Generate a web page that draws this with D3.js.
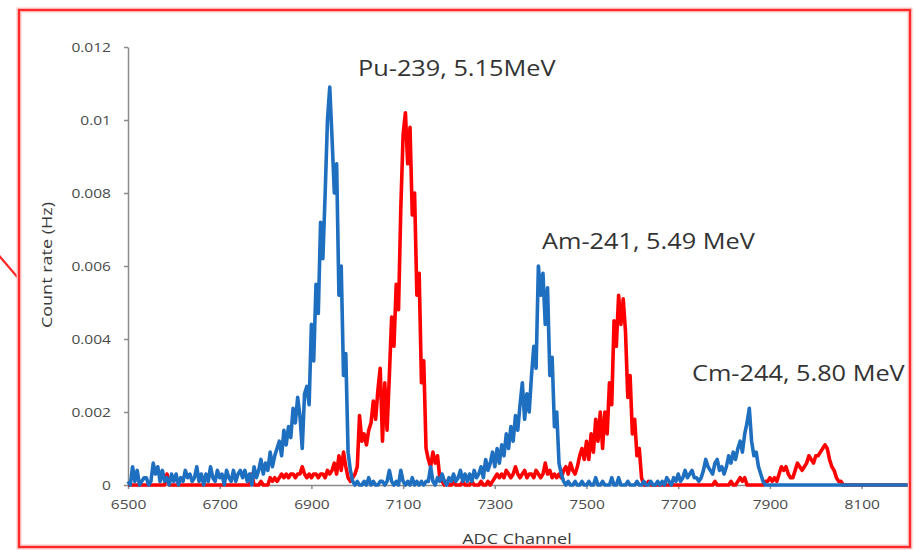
<!DOCTYPE html>
<html lang="en">
<head>
    <meta charset="utf-8">
    <title>Alpha spectrum</title>
    <script src="https://cdn.jsdelivr.net/npm/d3@7"></script>
    <style type="text/css">
        body { margin: 0; background: #fff; }
        svg { display: block; }
        text { font-family: "Open Sans", "Noto Sans", sans-serif; }
    </style>
</head>
<body>
    <script type="text/javascript">

        var w = 915;
        var h = 550;

        // ADC channels, one sample every 5 channels
        var firstChannel = 6500;
        var lastChannel = 8200;
        var channelStep = 5;

        // count rates in units of 1e-4 Hz
        var blueRate = [
            1,0,5,1,4,0,1,2,2,0,1,6,3,5,1,4,1,2,0,3,        // 6500
            1,3,0,2,1,4,2,3,1,2,5,1,3,0,3,1,5,2,1,4,        // 6600
            2,3,0,4,2,1,4,1,3,4,2,4,1,3,0,5,2,4,7,3,        // 6700
            6,4,9,5,8,10,12,8,15,11,16,13,21,17,24,19,10,25,27,22,   // 6800
            44,34,55,47,72,62,80,100,109,95,80,88,52,60,30,36,9,4,1,0, // 6900
            1,0,0,1,0,2,0,1,0,0,1,1,0,1,4,1,0,1,0,4,        // 7000
            1,0,1,0,2,0,1,0,1,0,1,1,5,1,0,2,1,3,1,0,        // 7100
            2,1,3,1,2,4,1,3,1,3,1,4,2,3,5,2,7,4,6,9,        // 7200
            5,10,6,11,8,14,10,16,12,19,15,22,28,18,25,20,30,38,32,60, // 7300
            52,58,44,54,30,35,16,20,6,3,1,0,1,0,0,1,0,0,1,0, // 7400
            0,1,0,0,2,0,0,1,0,0,0,2,0,0,2,0,0,0,1,0,        // 7500
            0,0,1,0,0,1,0,0,1,0,0,1,0,1,0,2,1,0,2,1,        // 7600
            3,1,2,4,2,3,4,2,2,1,2,4,7,5,4,3,6,7,4,5,        // 7700
            3,5,8,6,9,7,10,12,9,14,17,21,12,8,9,5,3,1,0,0,  // 7800
            0,0,0,0,0,0,0,0,0,0,0,0,0,0,0,0,0,0,0,0,        // 7900
            0,0,0,0,0,0,0,0,0,0,0,0,0,0,0,0,0,0,0,0,        // 8000
            0,0,0,0,0,0,0,0,0,0,0,0,0,0,0,0,0,0,0,0,        // 8100
            0                                               // 8200
        ];

        var redRate = [
            0,0,0,0,0,0,0,0,0,0,0,0,0,0,0,0,0,3,0,0,        // 6500
            0,0,0,0,0,0,0,0,0,0,0,0,0,0,0,0,0,0,0,0,        // 6600
            0,0,0,0,0,0,0,0,0,0,0,0,0,0,3,0,0,0,1,0,        // 6700
            0,0,2,1,2,1,2,3,2,3,2,3,3,2,3,3,5,3,2,3,        // 6800
            2,3,3,2,3,3,2,4,3,4,6,3,8,4,9,5,2,1,2,3,        // 6900
            5,19,12,14,11,15,17,23,18,26,32,12,28,15,30,46,38,55,48,76, // 7000
            96,102,88,98,74,80,52,58,28,34,10,7,5,9,6,8,2,1,0,1, // 7100
            0,0,1,0,0,0,1,0,0,0,1,0,0,0,1,0,0,1,0,1,        // 7200
            2,3,2,3,2,4,3,2,3,5,3,2,3,4,2,3,3,2,4,3,        // 7300
            2,3,6,3,4,2,3,2,3,2,4,5,3,6,4,3,5,8,10,7,       // 7400
            12,7,14,9,18,12,20,10,20,14,28,22,45,38,52,44,51,42,24,30, // 7500
            14,18,8,10,2,0,0,1,0,0,0,0,0,0,0,0,0,0,0,0,     // 7600
            0,0,0,0,0,0,0,0,0,0,0,0,0,0,0,0,1,0,0,0,        // 7700
            0,0,0,1,0,0,1,2,1,2,0,0,0,0,0,0,0,0,1,1,        // 7800
            2,1,2,1,3,5,4,5,3,2,2,4,6,5,4,5,6,8,7,6,        // 7900
            8,8,9,10,11,10,7,5,4,2,1,1,0,0,0,0,0,0,0,0,     // 8000
            0,0,0,0,0,0,0,0,0,0,0,0,0,0,0,0,0,0,0,0,        // 8100
            0                                               // 8200
        ];

        var rateUnit = 1e-4;

        var yTicks = [0, 0.002, 0.004, 0.006, 0.008, 0.01, 0.012];
        var xTicks = [6500, 6700, 6900, 7100, 7300, 7500, 7700, 7900, 8100];

        var peakLabels = ["Pu-239, 5.15MeV", "Am-241, 5.49 MeV", "Cm-244, 5.80 MeV"];
        var labelPos = [[358, 76], [542, 249], [692, 381]];

        var channels = d3.range(firstChannel, lastChannel + 1, channelStep);

        // glyphs in the picture are a bit wider than Open Sans
        var widen = 1.15;
        function stretch(sel, k) {
            sel.each(function() {
                var len = this.getComputedTextLength();
                d3.select(this)
                  .attr("textLength", len * k)
                  .attr("lengthAdjust", "spacingAndGlyphs");
            });
        }

        var svg = d3.select("body")
                .append("svg")
                .attr("width", w)
                .attr("height", h);

        // callout frame
        svg.append("line")
           .attr("x1", -4).attr("y1", 252)
           .attr("x2", 19).attr("y2", 279)
           .attr("stroke", "#ff2a2a")
           .attr("stroke-width", 2.2);
        svg.append("rect")
           .attr("x", 19).attr("y", 10)
           .attr("width", 891).attr("height", 537)
           .attr("fill", "none")
           .attr("stroke", "#ffc4c4")
           .attr("stroke-width", 5);
        svg.append("rect")
           .attr("x", 19).attr("y", 10)
           .attr("width", 891).attr("height", 537)
           .attr("fill", "none")
           .attr("stroke", "#ff2a2a")
           .attr("stroke-width", 2.2);

        var x = d3.scaleLinear()
                .domain([firstChannel, lastChannel])
                .range([128, 907.5]);
        var y = d3.scaleLinear()
                .domain([0, 0.012])
                .range([485, 47]);

        svg.append("g")
           .attr("transform", "translate(128,0)")
           .call(d3.axisLeft(y)
                 .tickValues(yTicks)
                 .tickFormat(function(d) { return String(d); })
                 .tickSize(4)
                 .tickSizeOuter(0)
                 .tickPadding(13));

        svg.append("g")
           .attr("transform", "translate(0,485)")
           .call(d3.axisBottom(x)
                 .tickValues(xTicks)
                 .tickFormat(function(d) { return String(d); })
                 .tickSize(4)
                 .tickSizeOuter(0)
                 .tickPadding(10));

        svg.selectAll(".domain, .tick line")
           .attr("stroke", "#8a8a8a")
           .attr("stroke-width", 1.5);
        svg.selectAll(".tick text")
           .attr("font-family", "Open Sans")
           .attr("font-size", "13.5px")
           .attr("fill", "#4a4a4a");
        stretch(svg.selectAll(".tick text"), widen);

        var line = d3.line()
            .x(function(d, i) { return x(channels[i]); })
            .y(function(d) { return y(d * rateUnit); });

        svg.append("path")
           .datum(redRate)
           .attr("d", line)
           .attr("fill", "none")
           .attr("stroke", "#ff0000")
           .attr("stroke-width", 3.6)
           .attr("stroke-linejoin", "round");

        svg.append("path")
           .datum(blueRate)
           .attr("d", line)
           .attr("fill", "none")
           .attr("stroke", "#1f6fc0")
           .attr("stroke-width", 3.6)
           .attr("stroke-linejoin", "round");

        svg.selectAll("text.peak")
           .data(peakLabels)
           .enter()
           .append("text")
           .attr("class", "peak")
           .text(function(d) { return d; })
           .attr("x", function(d, i) { return labelPos[i][0]; })
           .attr("y", function(d, i) { return labelPos[i][1]; })
           .attr("font-size", "22px")
           .attr("fill", "#333");
        stretch(svg.selectAll("text.peak"), widen);

        var yTitle = svg.append("text")
           .text("Count rate (Hz)")
           .attr("transform", "translate(52,265) rotate(-90)")
           .attr("text-anchor", "middle")
           .attr("font-size", "15px")
           .attr("fill", "#3a3a3a");
        stretch(yTitle, 1.2);

        var xTitle = svg.append("text")
           .text("ADC Channel")
           .attr("x", 517)
           .attr("y", 544)
           .attr("text-anchor", "middle")
           .attr("font-size", "15px")
           .attr("fill", "#3a3a3a");
        stretch(xTitle, 1.2);

    </script>
</body>
</html>
